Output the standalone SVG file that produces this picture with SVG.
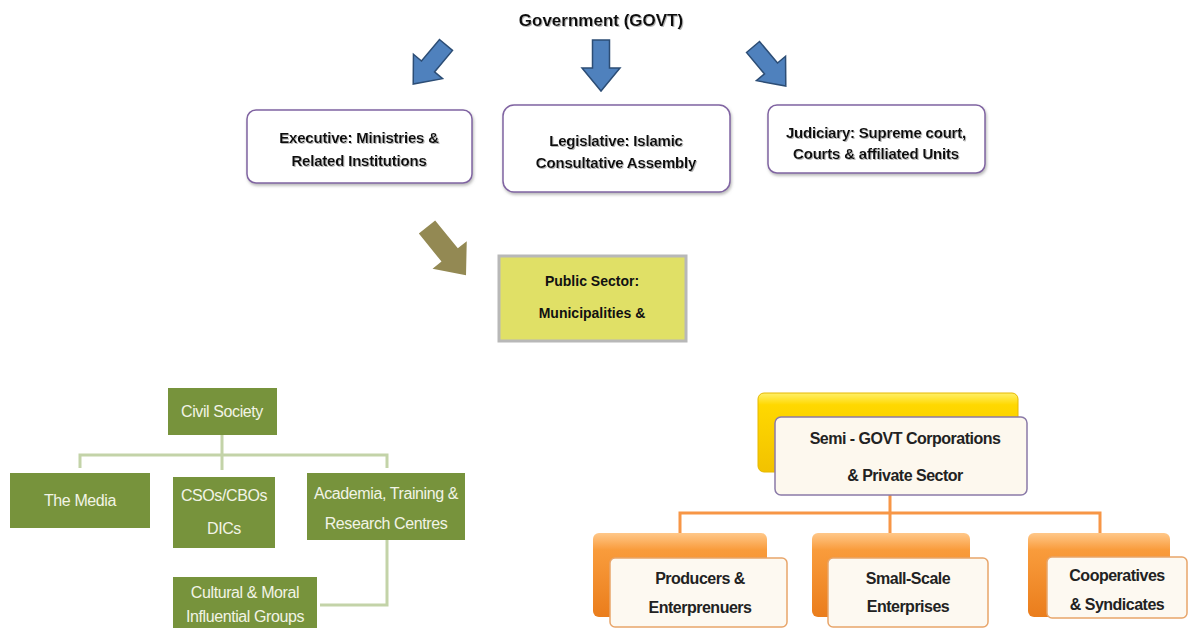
<svg xmlns="http://www.w3.org/2000/svg" width="1189" height="630" viewBox="0 0 1189 630">
<style>
.t{font-family:"Liberation Sans",Arial,sans-serif;font-weight:bold;fill:#111;text-anchor:middle}
.bx{fill:#fff;stroke:#8064a2;stroke-width:1.5}
.bl{fill:#4f81bd;stroke:#2c4d75;stroke-width:1.5}
.g{fill:#77933c}
.gt{font-family:"Liberation Sans",Arial,sans-serif;font-size:16px;fill:#f2f4e6;text-anchor:middle;letter-spacing:-0.4px}
.gl{fill:none;stroke:#c3d3a8;stroke-width:3}
.ol{fill:none;stroke:#f79646;stroke-width:3}
.fr{fill:#fdf9f1;stroke:#e8a56a;stroke-width:1.5}
.st{font-family:"Liberation Sans",Arial,sans-serif;font-weight:bold;font-size:16px;fill:#222;text-anchor:middle;letter-spacing:-0.5px}
</style>
<defs>
<filter id="sh" x="-10%" y="-10%" width="130%" height="140%">
<feDropShadow dx="1" dy="2" stdDeviation="1.5" flood-color="#888" flood-opacity="0.6"/>
</filter>
<filter id="ts" x="-5%" y="-20%" width="110%" height="150%">
<feDropShadow dx="1" dy="1" stdDeviation="0.6" flood-color="#999" flood-opacity="0.7"/>
</filter>
<linearGradient id="yel" x1="0" y1="0" x2="0" y2="1">
<stop offset="0" stop-color="#fff06a"/>
<stop offset="0.15" stop-color="#ffd800"/>
<stop offset="1" stop-color="#f2c200"/>
</linearGradient>
<linearGradient id="org" x1="0" y1="0" x2="0" y2="1">
<stop offset="0" stop-color="#ffc88a"/>
<stop offset="0.2" stop-color="#f99c3c"/>
<stop offset="1" stop-color="#ea7d1c"/>
</linearGradient>
<path id="arr" d="M -8.5 0 L 8.5 0 L 8.5 28 L 19 28 L 0 51 L -19 28 L -8.5 28 Z"/>
</defs>
<rect width="1189" height="630" fill="#fff"/>

<g id="govt">
<text class="t" x="601" y="26" font-size="17" filter="url(#ts)">Government (GOVT)</text>
</g>

<g id="connectors">
<use href="#arr" class="bl" transform="translate(446,45) rotate(40)"/>
<use href="#arr" class="bl" transform="translate(601,40)"/>
<use href="#arr" class="bl" transform="translate(753,47) rotate(-40)"/>
<path d="M -10.5 0 L 10.5 0 L 10.5 36 L 22 36 L 0 62 L -22 36 L -10.5 36 Z" fill="#938953" transform="translate(427,227) rotate(-39)"/>
<path class="gl" d="M222 435 V470 M80 468 V455 H387 V468 M387 540 V605 H320"/>
<path class="ol" d="M890 495 V535 M680 535 V513 H1100 V535"/>
</g>

<g id="executive">
<rect class="bx" x="247" y="110" width="225" height="73" rx="9" filter="url(#sh)"/>
<text class="t" x="359" y="143" font-size="15" letter-spacing="-0.2" filter="url(#ts)">Executive: Ministries &amp;</text>
<text class="t" x="359" y="166" font-size="15" letter-spacing="-0.2" filter="url(#ts)">Related Institutions</text>
</g>

<g id="legislative">
<rect class="bx" x="503" y="105" width="227" height="87" rx="11" filter="url(#sh)"/>
<text class="t" x="616" y="146" font-size="15" letter-spacing="-0.2" filter="url(#ts)">Legislative: Islamic</text>
<text class="t" x="616" y="168" font-size="15" letter-spacing="-0.2" filter="url(#ts)">Consultative Assembly</text>
</g>

<g id="judiciary">
<rect class="bx" x="768" y="105" width="217" height="68" rx="9" filter="url(#sh)"/>
<text class="t" x="876" y="138" font-size="15" letter-spacing="-0.2" filter="url(#ts)">Judiciary: Supreme court,</text>
<text class="t" x="876" y="159" font-size="15" letter-spacing="-0.2" filter="url(#ts)">Courts &amp; affiliated Units</text>
</g>

<g id="public-sector">
<rect x="499" y="256" width="187" height="85" fill="#e0e066" stroke="#b8b8b8" stroke-width="3"/>
<text class="t" x="592" y="286" font-size="14">Public Sector:</text>
<text class="t" x="592" y="318" font-size="14">Municipalities &amp;</text>
</g>

<g id="civil-society">
<rect class="g" x="168" y="388" width="109" height="47"/>
<text class="gt" x="222" y="417">Civil Society</text>
</g>
<g id="media">
<rect class="g" x="10" y="473" width="140" height="55"/>
<text class="gt" x="80" y="506">The Media</text>
</g>
<g id="csos">
<rect class="g" x="173" y="477" width="102" height="71"/>
<text class="gt" x="224" y="501">CSOs/CBOs</text>
<text class="gt" x="224" y="534">DICs</text>
</g>
<g id="academia">
<rect class="g" x="307" y="473" width="158" height="67"/>
<text class="gt" x="386" y="499">Academia, Training &amp;</text>
<text class="gt" x="386" y="529">Research Centres</text>
</g>
<g id="cultural">
<rect class="g" x="173" y="577" width="144" height="51"/>
<text class="gt" x="245" y="598">Cultural &amp; Moral</text>
<text class="gt" x="245" y="622">Influential Groups</text>
</g>

<g id="semi-govt">
<rect x="758" y="393" width="260" height="79" rx="6" fill="url(#yel)" stroke="#e6b800" stroke-width="1"/>
<rect x="775" y="417" width="252" height="78" rx="6" fill="#fdf8ee" stroke="#8a7aa8" stroke-width="1.5"/>
<text class="st" x="905" y="444" font-size="17.5">Semi - GOVT Corporations</text>
<text class="st" x="905" y="481" font-size="17.5">&amp; Private Sector</text>
</g>

<g id="producers">
<rect x="593" y="533" width="174" height="84" rx="6" fill="url(#org)"/>
<rect class="fr" x="610" y="558" width="177" height="69" rx="5"/>
<text class="st" x="700" y="584" font-size="17">Producers &amp;</text>
<text class="st" x="700" y="613" font-size="17">Enterprenuers</text>
</g>

<g id="small-scale">
<rect x="812" y="533" width="158" height="84" rx="6" fill="url(#org)"/>
<rect class="fr" x="828" y="558" width="160" height="69" rx="5"/>
<text class="st" x="908" y="584" font-size="17">Small-Scale</text>
<text class="st" x="908" y="612" font-size="17">Enterprises</text>
</g>

<g id="cooperatives">
<rect x="1028" y="533" width="142" height="84" rx="6" fill="url(#org)"/>
<rect class="fr" x="1047" y="557" width="140" height="61" rx="5"/>
<text class="st" x="1117" y="581" font-size="17">Cooperatives</text>
<text class="st" x="1117" y="610" font-size="17">&amp; Syndicates</text>
</g>
</svg>
